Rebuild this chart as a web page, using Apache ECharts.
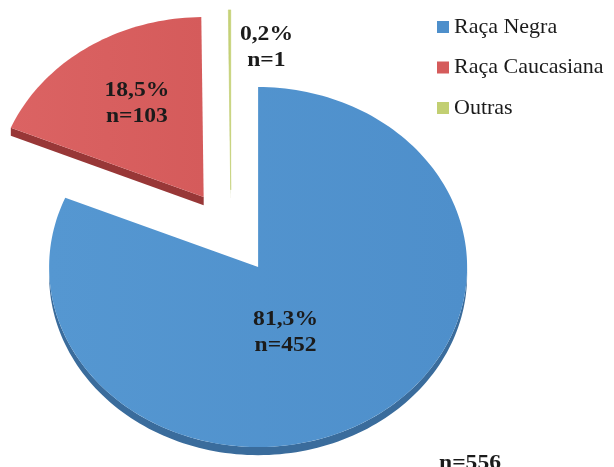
<!DOCTYPE html>
<html>
<head>
<meta charset="utf-8">
<script src="https://cdn.jsdelivr.net/npm/echarts@6/dist/echarts.min.js"></script>
<style>
  html, body { margin: 0; padding: 0; background: #ffffff; }
  #chart { width: 614px; height: 467px; }
</style>
</head>
<body>
<div id="chart"></div>
<script>
// Distribution by race
const categories = ['Raça Negra', 'Raça Caucasiana', 'Outras'];
const counts = [452, 103, 1];

const faceColors = ['#4e8fcb', '#d55b5b', '#c2cf72'];
const faceColorsLight = ['#5597d1', '#db6363', '#c8d47c'];
const sideColors = ['#3a6c9c', '#983737', '#98a44a'];

const total = counts.reduce((a, b) => a + b, 0);
const pctText = v => (v / total * 100).toFixed(1).replace('.', ',') + '%';

const SERIF = 'Liberation Serif';

// Pie drawn in unit-circle space on hidden value axes; the grid's aspect
// squashes the circle into the tilted ellipse of a 3D pie.
const EXPLODE = 0.234;   // radial pull-out of every slice (unit radius)
const DEPTH = 0.045;     // thickness of the pie's side wall
const TEXT_STRETCH = 1.18;
const labelPlace = [
  { shift: 14, r: 0.39 },
  { shift: 2.4, r: 0.61 },
  { shift: 12.5, r: 0.81 }
];

const rad = d => d * Math.PI / 180;

function sliceAngles(idx) {
  let start = 0;
  for (let k = 0; k < idx; k++) start += counts[k] / total * 360;
  const sweep = counts[idx] / total * 360;
  return [start, start + sweep];
}

function renderSlice(params, api) {
  const idx = params.seriesIndex;
  const [a0, a1] = sliceAngles(idx);
  const mid = (a0 + a1) / 2;
  const ox = Math.sin(rad(mid)) * EXPLODE;
  const oy = Math.cos(rad(mid)) * EXPLODE;
  const pt = (ang, r, dz) => api.coord([
    ox + r * Math.sin(rad(ang)),
    oy + r * Math.cos(rad(ang)) - (dz || 0)
  ]);
  const arc = (from, to, dz) => {
    const n = Math.max(2, Math.ceil((to - from) / 1.5));
    const out = [];
    for (let j = 0; j <= n; j++) out.push(pt(from + (to - from) * j / n, 1, dz));
    return out;
  };

  const children = [];
  const side = { fill: sideColors[idx] };

  // outer side wall, visible on the lower half of the rim
  const lo = Math.max(a0, 90), hi = Math.min(a1, 270);
  if (lo < hi) {
    const top = arc(lo, hi, 0);
    const bottom = arc(lo, hi, DEPTH).reverse();
    children.push({ type: 'polygon', shape: { points: top.concat(bottom) }, style: side });
  }
  // radial cut faces that turn toward the viewer
  if (Math.sin(rad(a0)) < -1e-6) {
    children.push({ type: 'polygon', shape: { points: [pt(a0, 0), pt(a0, 1), pt(a0, 1, DEPTH), pt(a0, 0, DEPTH)] }, style: side });
  }
  if (Math.sin(rad(a1)) > 1e-6) {
    children.push({ type: 'polygon', shape: { points: [pt(a1, 0), pt(a1, 1), pt(a1, 1, DEPTH), pt(a1, 0, DEPTH)] }, style: side });
  }

  // top face
  const facePts = [pt(a0, 0)].concat(arc(a0, a1, 0));
  children.push({
    type: 'polygon',
    shape: { points: facePts },
    style: {
      fill: new echarts.graphic.LinearGradient(0, 0, 1, 0, [
        { offset: 0, color: faceColorsLight[idx] },
        { offset: 1, color: faceColors[idx] }
      ]),
      stroke: idx === 2 ? faceColors[idx] : null,
      lineWidth: idx === 2 ? 0.6 : 0
    }
  });

  // value label
  const lp = labelPlace[idx];
  const p = pt(mid + lp.shift, lp.r);
  children.push({
    type: 'text',
    x: p[0],
    y: p[1],
    scaleX: TEXT_STRETCH,
    style: {
      text: pctText(counts[idx]) + '\nn=' + counts[idx],
      font: 'bold 20px "' + SERIF + '"',
      fill: '#1b1b1b',
      align: 'center',
      verticalAlign: 'middle',
      lineHeight: 26
    }
  });

  return { type: 'group', children };
}

const legendText = {
  fontFamily: SERIF,
  fontSize: 22,
  color: '#1b1b1b'
};

const chart = echarts.init(document.getElementById('chart'));
chart.setOption({
  animation: false,
  backgroundColor: '#ffffff',
  textStyle: { fontFamily: SERIF },
  grid: { left: 22, top: 52, width: 418, height: 360 },
  xAxis: { type: 'value', min: -1, max: 1, show: false },
  yAxis: { type: 'value', min: -1, max: 1, show: false },
  legend: {
    orient: 'vertical',
    left: 437,
    top: 16,
    padding: 0,
    itemWidth: 12,
    itemHeight: 12,
    itemGap: 18.5,
    icon: 'rect',
    textStyle: legendText,
    data: categories.map(name => ({ name: name, textStyle: legendText }))
  },
  series: categories.map((name, i) => ({
    type: 'custom',
    name: name,
    coordinateSystem: 'cartesian2d',
    clip: false,
    itemStyle: { color: faceColors[i] },
    data: [[0, counts[i]]],
    renderItem: renderSlice
  })),
  graphic: [{
    type: 'text',
    x: 470,
    y: 454,
    scaleX: TEXT_STRETCH,
    style: {
      text: 'n=' + total,
      font: 'bold 20px "' + SERIF + '"',
      fill: '#1b1b1b',
      align: 'center',
      verticalAlign: 'top'
    }
  }]
});
</script>
</body>
</html>
